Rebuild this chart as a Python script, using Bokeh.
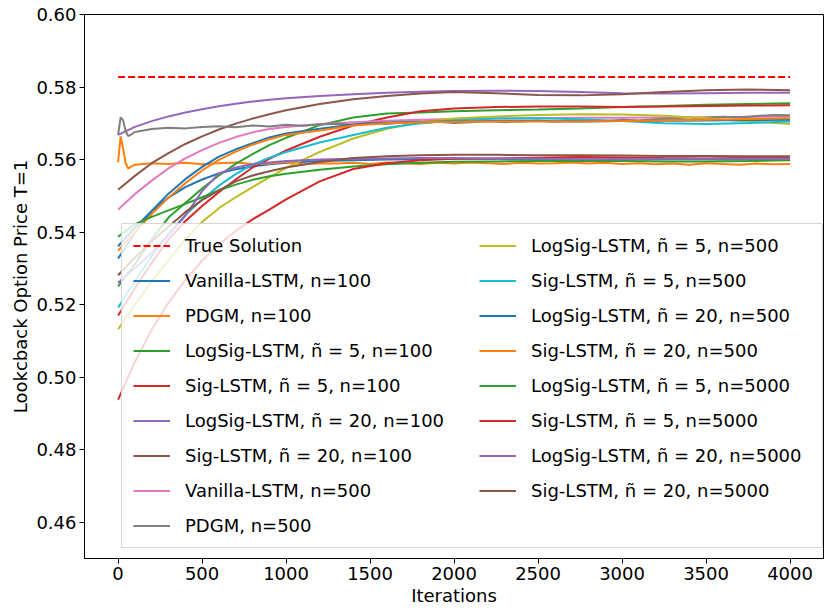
from bokeh.plotting import figure
from bokeh.models import Legend, LegendItem, Range1d, FixedTicker, NumeralTickFormatter
from bokeh.embed import file_html
from bokeh.resources import INLINE

# ---------------- data ----------------
iters = [0, 100, 200, 300, 400, 500, 600, 700, 800, 900, 1000, 1200, 1400, 1600,
         1800, 2000, 2250, 2500, 2750, 3000, 3250, 3500, 3750, 4000]
pdgm_iters = [0, 15, 30, 45, 60, 75, 100, 150, 200] + list(range(300, 4001, 100))
true_iters = [0, 4000]

true_solution = [0.5828, 0.5828]

vanilla_100 = [0.5361, 0.5412, 0.5458, 0.5495, 0.5524, 0.5545, 0.5562, 0.5573, 0.5581, 0.5587,
               0.5591, 0.5596, 0.5598, 0.5600, 0.5601, 0.5602, 0.5602, 0.5601, 0.5600, 0.5600,
               0.5601, 0.5601, 0.5600, 0.5600]
pdgm_100 = [0.5592, 0.5664, 0.5630, 0.5590, 0.5575, 0.5580, 0.5586, 0.5588, 0.5590,
            0.5588, 0.5591, 0.5587, 0.5590, 0.5592, 0.5588, 0.5589, 0.5593, 0.5587, 0.5590,
            0.5589, 0.5591, 0.5588, 0.5592, 0.5590, 0.5588, 0.5591, 0.5589, 0.5592, 0.5590,
            0.5588, 0.5591, 0.5589, 0.5590, 0.5592, 0.5589, 0.5591, 0.5588, 0.5590, 0.5587,
            0.5589, 0.5586, 0.5590, 0.5588, 0.5586, 0.5589, 0.5587, 0.5588]
logsig5_100 = [0.5250, 0.5312, 0.5380, 0.5440, 0.5480, 0.5520, 0.5556, 0.5588, 0.5615, 0.5640,
               0.5660, 0.5695, 0.5716, 0.5727, 0.5730, 0.5733, 0.5736, 0.5738, 0.5741, 0.5745,
               0.5748, 0.5751, 0.5753, 0.5755]
sig5_100 = [0.5170, 0.5245, 0.5315, 0.5380, 0.5430, 0.5472, 0.5510, 0.5545, 0.5578, 0.5602,
            0.5625, 0.5663, 0.5694, 0.5716, 0.5733, 0.5741, 0.5745, 0.5746, 0.5746, 0.5745,
            0.5746, 0.5748, 0.5749, 0.5750]
logsig20_100 = [0.5668, 0.5690, 0.5706, 0.5719, 0.5730, 0.5739, 0.5747, 0.5754, 0.5760, 0.5765,
                0.5769, 0.5775, 0.5780, 0.5784, 0.5787, 0.5789, 0.5790, 0.5789, 0.5786, 0.5783,
                0.5782, 0.5783, 0.5784, 0.5784]
sig20_100 = [0.5517, 0.5555, 0.5590, 0.5618, 0.5643, 0.5664, 0.5683, 0.5699, 0.5713, 0.5725,
             0.5736, 0.5753, 0.5766, 0.5775, 0.5782, 0.5786, 0.5783, 0.5778, 0.5777, 0.5780,
             0.5786, 0.5791, 0.5793, 0.5791]
vanilla_500 = [0.5462, 0.5505, 0.5542, 0.5576, 0.5603, 0.5626, 0.5646, 0.5662, 0.5675, 0.5684,
               0.5690, 0.5698, 0.5703, 0.5707, 0.5710, 0.5712, 0.5713, 0.5714, 0.5715, 0.5715,
               0.5716, 0.5717, 0.5718, 0.5719]
pdgm_500 = [0.5668, 0.5716, 0.5708, 0.5678, 0.5665, 0.5668, 0.5676, 0.5680, 0.5684,
            0.5688, 0.5686, 0.5690, 0.5692, 0.5689, 0.5694, 0.5691, 0.5696, 0.5693, 0.5697,
            0.5699, 0.5696, 0.5701, 0.5698, 0.5702, 0.5700, 0.5704, 0.5701, 0.5703, 0.5706,
            0.5703, 0.5705, 0.5708, 0.5704, 0.5707, 0.5709, 0.5706, 0.5710, 0.5708, 0.5711,
            0.5713, 0.5710, 0.5715, 0.5718, 0.5716, 0.5720, 0.5723, 0.5722]
logsig5_500 = [0.5132, 0.5200, 0.5264, 0.5323, 0.5380, 0.5428, 0.5466, 0.5496, 0.5524, 0.5551,
               0.5577, 0.5621, 0.5658, 0.5685, 0.5703, 0.5713, 0.5719, 0.5723, 0.5725, 0.5724,
               0.5721, 0.5714, 0.5705, 0.5698]
sig5_500 = [0.5192, 0.5265, 0.5333, 0.5395, 0.5447, 0.5490, 0.5528, 0.5560, 0.5586, 0.5605,
            0.5621, 0.5647, 0.5668, 0.5688, 0.5700, 0.5708, 0.5713, 0.5714, 0.5711, 0.5706,
            0.5700, 0.5698, 0.5701, 0.5705]
logsig20_500 = [0.5327, 0.5398, 0.5458, 0.5506, 0.5546, 0.5580, 0.5608, 0.5628, 0.5645, 0.5661,
                0.5672, 0.5685, 0.5697, 0.5702, 0.5704, 0.5705, 0.5706, 0.5706, 0.5705, 0.5706,
                0.5707, 0.5708, 0.5709, 0.5710]
sig20_500 = [0.5349, 0.5400, 0.5450, 0.5495, 0.5535, 0.5570, 0.5599, 0.5622, 0.5641, 0.5656,
             0.5668, 0.5680, 0.5694, 0.5700, 0.5703, 0.5704, 0.5705, 0.5705, 0.5705, 0.5706,
             0.5708, 0.5710, 0.5712, 0.5714]
logsig5_5000 = [0.5387, 0.5422, 0.5442, 0.5460, 0.5478, 0.5496, 0.5515, 0.5531, 0.5544, 0.5554,
                0.5561, 0.5572, 0.5581, 0.5587, 0.5591, 0.5594, 0.5595, 0.5596, 0.5596, 0.5596,
                0.5595, 0.5595, 0.5596, 0.5598]
sig5_5000 = [0.4938, 0.5042, 0.5131, 0.5205, 0.5268, 0.5321, 0.5366, 0.5403, 0.5435, 0.5462,
             0.5490, 0.5540, 0.5574, 0.5590, 0.5598, 0.5602, 0.5603, 0.5605, 0.5607, 0.5606,
             0.5604, 0.5603, 0.5605, 0.5606]
logsig20_5000 = [0.5260, 0.5300, 0.5343, 0.5392, 0.5445, 0.5513, 0.5562, 0.5578, 0.5587, 0.5592,
                 0.5596, 0.5600, 0.5602, 0.5603, 0.5604, 0.5604, 0.5603, 0.5602, 0.5601, 0.5601,
                 0.5602, 0.5602, 0.5602, 0.5602]
sig20_5000 = [0.5281, 0.5330, 0.5375, 0.5415, 0.5455, 0.5488, 0.5515, 0.5540, 0.5556, 0.5568,
              0.5578, 0.5593, 0.5604, 0.5609, 0.5612, 0.5613, 0.5613, 0.5612, 0.5612, 0.5611,
              0.5610, 0.5610, 0.5609, 0.5609]

labels = [
    "Vanilla-LSTM, n=100", "PDGM, n=100",
    "LogSig-LSTM, ñ = 5, n=100", "Sig-LSTM, ñ = 5, n=100",
    "LogSig-LSTM, ñ = 20, n=100", "Sig-LSTM, ñ = 20, n=100",
    "Vanilla-LSTM, n=500", "PDGM, n=500",
    "LogSig-LSTM, ñ = 5, n=500", "Sig-LSTM, ñ = 5, n=500",
    "LogSig-LSTM, ñ = 20, n=500", "Sig-LSTM, ñ = 20, n=500",
    "LogSig-LSTM, ñ = 5, n=5000", "Sig-LSTM, ñ = 5, n=5000",
    "LogSig-LSTM, ñ = 20, n=5000", "Sig-LSTM, ñ = 20, n=5000",
]
series = [vanilla_100, pdgm_100, logsig5_100, sig5_100, logsig20_100, sig20_100,
          vanilla_500, pdgm_500, logsig5_500, sig5_500, logsig20_500, sig20_500,
          logsig5_5000, sig5_5000, logsig20_5000, sig20_5000]
xs_for = [iters, pdgm_iters, iters, iters, iters, iters,
          iters, pdgm_iters, iters, iters, iters, iters,
          iters, iters, iters, iters]

x_ticks = [0, 500, 1000, 1500, 2000, 2500, 3000, 3500, 4000]
y_ticks = [0.46, 0.48, 0.50, 0.52, 0.54, 0.56, 0.58, 0.60]

tab10 = ["#1f77b4", "#ff7f0e", "#2ca02c", "#d62728", "#9467bd",
         "#8c564b", "#e377c2", "#7f7f7f", "#bcbd22", "#17becf"]

FONT = "DejaVu Sans"

p = figure(width=824, height=608, output_backend="svg", toolbar_location=None,
           x_range=Range1d(-200, 4199), y_range=Range1d(0.45, 0.60),
           min_border_left=84, min_border_right=1, min_border_top=14, min_border_bottom=40,
           background_fill_color="white", border_fill_color="white")
p.outline_line_color = "black"
p.outline_line_width = 1
p.grid.visible = False

for ax in (p.xaxis, p.yaxis):
    ax.axis_line_color = "black"
    ax.major_tick_line_color = "black"
    ax.major_tick_out = 5
    ax.major_tick_in = 0
    ax.minor_tick_line_color = None
    ax.major_label_text_font = FONT
    ax.major_label_text_font_size = "18px"
    ax.major_label_text_color = "black"
    ax.axis_label_text_font = FONT
    ax.axis_label_text_font_size = "18px"
    ax.axis_label_text_font_style = "normal"
    ax.axis_label_text_color = "black"
    ax.major_label_standoff = 3
    ax.axis_label_standoff = 2

p.xaxis.ticker = FixedTicker(ticks=x_ticks)
p.yaxis.ticker = FixedTicker(ticks=y_ticks)
p.yaxis.formatter = NumeralTickFormatter(format="0.00")
p.xaxis.axis_label = "Iterations"
p.yaxis.axis_label = "Lookcback Option Price T=1"

items = []
r = p.line(true_iters, true_solution, line_color="#ff0000", line_width=2, line_dash="7 3")
items.append(LegendItem(label="True Solution", renderers=[r]))
for i, (lab, ys, xs) in enumerate(zip(labels, series, xs_for)):
    r = p.line(xs, ys, line_color=tab10[i % 10], line_width=2)
    items.append(LegendItem(label=lab, renderers=[r]))

legend = Legend(items=items, ncols=2, location=(37, 10),
                label_text_font=FONT, label_text_font_size="18px", label_text_color="black",
                glyph_width=37, glyph_height=21, label_height=21, label_standoff=15,
                label_width=280, spacing=14, padding=11,
                border_line_color="#cccccc", border_line_alpha=0.8,
                background_fill_color="white", background_fill_alpha=0.8)
p.add_layout(legend, "center")

open("out.html", "w").write(file_html(p, INLINE))
